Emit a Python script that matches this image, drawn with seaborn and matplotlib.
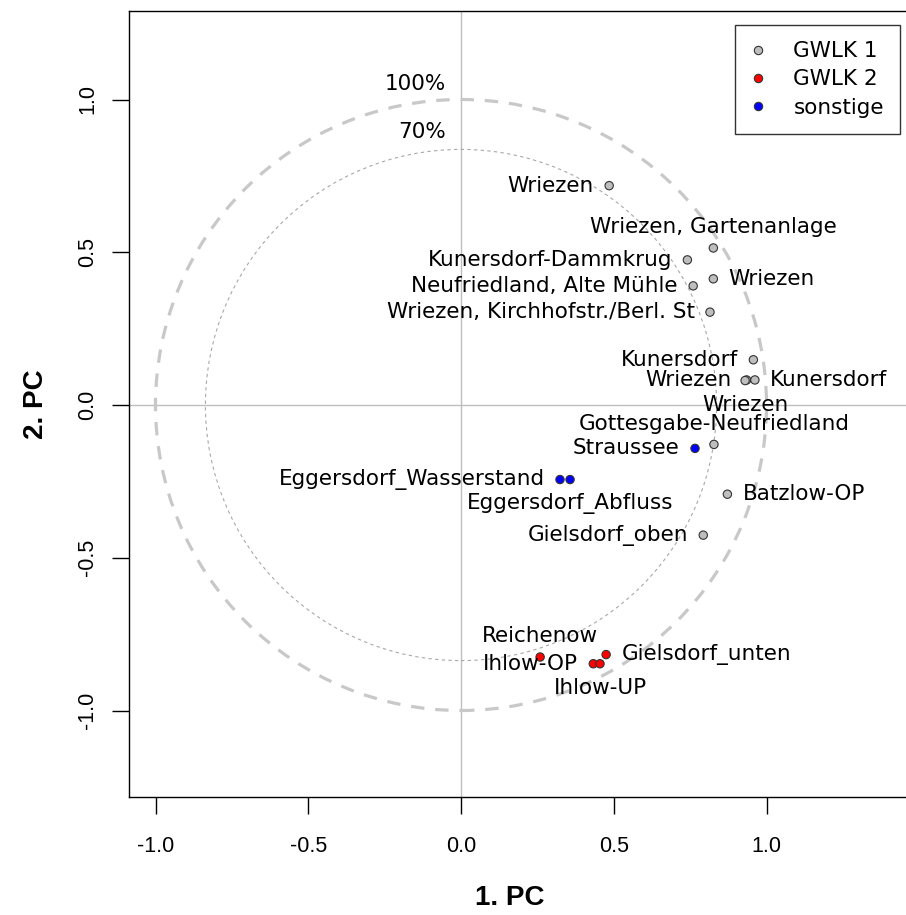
import numpy as np
import pandas as pd
import matplotlib
matplotlib.use("Agg")
import matplotlib.pyplot as plt
from matplotlib import font_manager
from matplotlib.patches import Circle
import seaborn as sns

# Loadings on the first two principal components
names = [
    "Wriezen", "Wriezen, Gartenanlage", "Kunersdorf-Dammkrug", "Wriezen",
    "Neufriedland, Alte Mühle", "Wriezen, Kirchhofstr./Berl. St", "Kunersdorf",
    "Wriezen", "Kunersdorf", "Wriezen", "Gottesgabe-Neufriedland", "Batzlow-OP",
    "Gielsdorf_oben", "Straussee", "Eggersdorf_Wasserstand", "Eggersdorf_Abfluss",
    "Reichenow", "Ihlow-OP", "Ihlow-UP", "Gielsdorf_unten",
]
pc1 = [0.485, 0.826, 0.741, 0.826, 0.760, 0.815, 0.957, 0.935, 0.962, 0.930,
       0.828, 0.872, 0.793, 0.766, 0.324, 0.357, 0.259, 0.433, 0.455, 0.475]
pc2 = [0.718, 0.514, 0.475, 0.413, 0.390, 0.304, 0.148, 0.082, 0.082, 0.080,
       -0.129, -0.292, -0.426, -0.142, -0.244, -0.244, -0.825, -0.847, -0.847, -0.817]
group = ["GWLK 1"] * 13 + ["sonstige"] * 3 + ["GWLK 2"] * 4
label_side = ["left", "above", "left", "right", "left", "left", "left", "left",
              "right", "below", "above", "right", "left", "left", "left", "below",
              "above", "left", "below", "right"]

groups = ["GWLK 1", "GWLK 2", "sonstige"]
group_colors = ["#BEBEBE", "#FF0000", "#0000FF"]

# Explained-variance reference circles
circle_radii = [1.0, np.sqrt(0.7)]
circle_labels = ["100%", "70%"]
circle_label_y = [1.05, 0.893]

x_ticks = [-1.0, -0.5, 0.0, 0.5, 1.0]
y_ticks = [-1.0, -0.5, 0.0, 0.5, 1.0]

df = pd.DataFrame({"name": names, "PC1": pc1, "PC2": pc2, "group": group,
                   "side": label_side})

sns.set_style("white")
available = {f.name for f in font_manager.fontManager.ttflist}
narrow = "Liberation Sans Narrow" if "Liberation Sans Narrow" in available else None
plt.rcParams["font.family"] = ["DejaVu Sans"]
plt.rcParams.update({"text.color": "black", "axes.labelcolor": "black",
                     "xtick.color": "black", "ytick.color": "black",
                     "xtick.bottom": True, "ytick.left": True})

if narrow:
    tick_font, tick_size, lab_font, lab_size = narrow, 16, narrow, 24
else:
    tick_font, tick_size, lab_font, lab_size = "Liberation Sans", 15.5, "Liberation Sans", 20

W, H = 906, 915
fig = plt.figure(figsize=(W / 100, H / 100), dpi=100)
left_px, right_px, top_px, bottom_px = 129, 906, 11, 797
ax = fig.add_axes([left_px / W, 1 - bottom_px / H,
                   (right_px - left_px) / W, (bottom_px - top_px) / H])

# data-to-pixel scale: 305.5 px per unit, origin at (461, 405)
sx, x0, y0 = 305.5, 461, 405
ax.set_xlim((left_px - x0) / sx, (right_px - x0) / sx)
ax.set_ylim((y0 - bottom_px) / sx, (y0 - top_px) / sx)

ax.axhline(0, color="#BEBEBE", lw=1.0, zorder=1)
ax.axvline(0, color="#BEBEBE", lw=1.0, zorder=1)

ax.add_patch(Circle((0, 0), circle_radii[0], fill=False, ec="#C8C8C8",
                    lw=2.3, ls=(0, (4.2, 3.4)), zorder=2))
ax.add_patch(Circle((0, 0), circle_radii[1], fill=False, ec="#A8A8A8",
                    lw=0.8, ls=(0, (3, 3)), zorder=2))
for lab, yy in zip(circle_labels, circle_label_y):
    ax.text(-0.05, yy, lab, ha="right", va="center", fontsize=15.5, color="black")

sns.scatterplot(data=df, x="PC1", y="PC2", hue="group", hue_order=groups,
                palette=dict(zip(groups, group_colors)), s=36,
                edgecolor="#333333", linewidth=0.8, ax=ax, zorder=4)

offsets = {"left": (-11, 0, "right", "center"),
           "right": (11, 0, "left", "center"),
           "above": (0, 15, "center", "center"),
           "below": (0, -17.5, "center", "center")}
for _, r in df.iterrows():
    dx, dy, ha, va = offsets[r["side"]]
    ax.annotate(r["name"], (r["PC1"], r["PC2"]), xytext=(dx, dy),
                textcoords="offset points", ha=ha, va=va, fontsize=15.5,
                color="black", zorder=5)

ax.set_xticks(x_ticks)
ax.set_yticks(y_ticks)
ax.set_xticklabels([f"{v:.1f}" for v in x_ticks], fontfamily=tick_font, fontsize=tick_size)
ax.set_yticklabels([f"{v:.1f}" for v in y_ticks], fontfamily=tick_font, fontsize=tick_size,
                   rotation=90, va="center")
ax.tick_params(axis="both", direction="out", length=12, width=1.0, color="black",
               labelcolor="black", bottom=True, left=True)
ax.tick_params(axis="x", pad=16)
ax.tick_params(axis="y", pad=10)

for side in ["left", "bottom", "top"]:
    ax.spines[side].set_color("black")
    ax.spines[side].set_linewidth(1.0)
ax.spines["right"].set_visible(False)

ax.set_xlabel("1. PC", fontfamily=lab_font, fontweight="bold", fontsize=lab_size)
ax.set_ylabel("2. PC", fontfamily=lab_font, fontweight="bold", fontsize=lab_size)
ax.xaxis.set_label_coords((510 - left_px) / (right_px - left_px),
                          -(898 - bottom_px) / (bottom_px - top_px))
ax.yaxis.set_label_coords(-(left_px - 36) / (right_px - left_px), 0.5)
ax.xaxis.label.set_va("center")
ax.yaxis.label.set_va("center")

leg = ax.legend(loc="upper right",
                bbox_to_anchor=((900 - left_px) / (right_px - left_px),
                                1 - (25 - top_px) / (bottom_px - top_px)),
                borderaxespad=0, frameon=True, fancybox=False, fontsize=15.5,
                borderpad=0.75, handlelength=0.6, handletextpad=1.35,
                labelspacing=0.38, title=None)
leg.get_frame().set_edgecolor("black")
leg.get_frame().set_linewidth(1.0)
for t in leg.get_texts():
    t.set_color("black")
for h in leg.legend_handles:
    if hasattr(h, "set_markersize"):
        h.set_markersize(6.0)
        h.set_markeredgecolor("#333333")
        h.set_markeredgewidth(0.8)
    elif hasattr(h, "set_sizes"):
        h.set_sizes([36])
        h.set_edgecolor("#333333")

fig.savefig("out.png", dpi=100)
